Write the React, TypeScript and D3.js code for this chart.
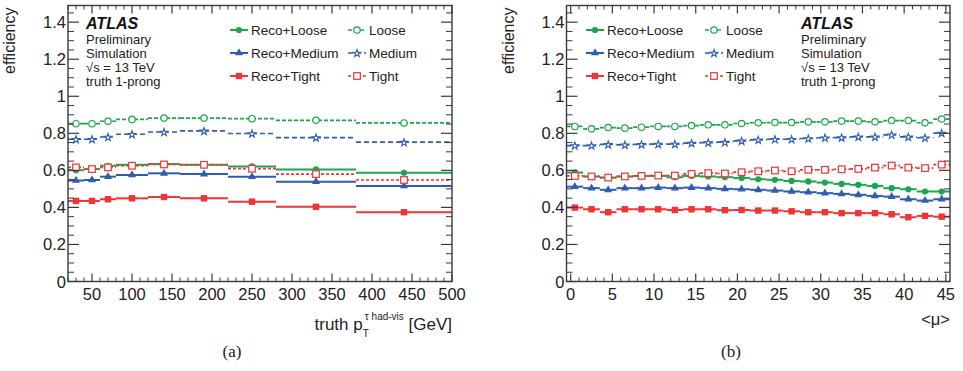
import React from "react";
import * as d3 from "d3";

// ---------- data ----------
const ptEdges = [20, 40, 60, 80, 120, 160, 220, 280, 380, 500];
const ptRecoLoose = [0.601, 0.607, 0.625, 0.63, 0.634, 0.63, 0.621, 0.605, 0.587];
const ptRecoMedium = [0.545, 0.548, 0.566, 0.575, 0.584, 0.58, 0.566, 0.539, 0.516];
const ptRecoTight = [0.435, 0.435, 0.444, 0.449, 0.456, 0.449, 0.431, 0.403, 0.374];
const ptLoose = [0.852, 0.852, 0.865, 0.875, 0.882, 0.882, 0.879, 0.87, 0.856];
const ptMedium = [0.768, 0.768, 0.78, 0.795, 0.807, 0.813, 0.799, 0.777, 0.752];
const ptTight = [0.616, 0.607, 0.616, 0.625, 0.632, 0.63, 0.609, 0.58, 0.548];

const muEdges = [-0.5, 1.5, 3.5, 5.5, 7.5, 9.5, 11.5, 13.5, 15.5, 17.5, 19.5, 21.5, 23.5, 25.5, 27.5, 29.5, 31.5, 33.5, 35.5, 37.5, 39.5, 41.5, 43.5, 45.5];
const muLoose = [0.837, 0.824, 0.831, 0.828, 0.833, 0.837, 0.837, 0.842, 0.846, 0.846, 0.853, 0.857, 0.858, 0.858, 0.862, 0.862, 0.866, 0.866, 0.862, 0.869, 0.869, 0.857, 0.877];
const muMedium = [0.734, 0.734, 0.74, 0.738, 0.74, 0.742, 0.742, 0.747, 0.75, 0.752, 0.759, 0.765, 0.768, 0.768, 0.772, 0.776, 0.777, 0.781, 0.781, 0.792, 0.781, 0.776, 0.801];
const muTight = [0.57, 0.567, 0.561, 0.567, 0.57, 0.572, 0.572, 0.581, 0.585, 0.583, 0.59, 0.595, 0.599, 0.595, 0.603, 0.603, 0.606, 0.608, 0.615, 0.626, 0.615, 0.612, 0.631];
const muRecoLoose = [0.588, 0.567, 0.561, 0.567, 0.57, 0.57, 0.563, 0.57, 0.567, 0.563, 0.559, 0.552, 0.549, 0.543, 0.54, 0.534, 0.527, 0.522, 0.516, 0.504, 0.498, 0.486, 0.486];
const muRecoMedium = [0.512, 0.504, 0.495, 0.504, 0.504, 0.507, 0.504, 0.507, 0.504, 0.5, 0.498, 0.495, 0.491, 0.486, 0.482, 0.477, 0.473, 0.468, 0.462, 0.458, 0.444, 0.437, 0.444];
const muRecoTight = [0.399, 0.39, 0.374, 0.39, 0.39, 0.39, 0.386, 0.39, 0.39, 0.385, 0.386, 0.383, 0.383, 0.379, 0.374, 0.374, 0.369, 0.369, 0.369, 0.363, 0.347, 0.354, 0.35];

const yTicks = [0, 0.2, 0.4, 0.6, 0.8, 1, 1.2, 1.4];
const ptTicks = [50, 100, 150, 200, 250, 300, 350, 400, 450, 500];
const muTicks = [0, 5, 10, 15, 20, 25, 30, 35, 40, 45];
const legendLabels = ["Reco+Loose", "Reco+Medium", "Reco+Tight", "Loose", "Medium", "Tight"];

const GREEN = "#1aa64c";
const BLUE = "#2d5cb0";
const RED = "#ef3535";
const FONT = "'Liberation Sans', Arial, Helvetica, sans-serif";
const AXC = "#3a3a3a";

type Series = { values: number[]; color: string; marker: string; dash?: string };

function Marker({ type, x, y, color }: { type: string; x: number; y: number; color: string }) {
  if (type === "circle") return <circle cx={x} cy={y} r={3.1} fill={color} />;
  if (type === "ocircle") return <circle cx={x} cy={y} r={3.2} fill="#fff" stroke={color} strokeWidth={1.2} />;
  if (type === "triangle")
    return <path d={d3.symbol(d3.symbolTriangle, 28)() || ""} transform={`translate(${x},${y})`} fill={color} />;
  if (type === "star")
    return (
      <path d={d3.symbol(d3.symbolStar, 17)() || ""} transform={`translate(${x},${y + 0.4})`} fill="#fff" stroke={color} strokeWidth={1.1} />
    );
  if (type === "square") return <rect x={x - 3.2} y={y - 3.2} width={6.4} height={6.4} fill={color} />;
  if (type === "osquare")
    return <rect x={x - 3.3} y={y - 3.3} width={6.6} height={6.6} fill="#fff" stroke={color} strokeWidth={1.2} />;
  return null;
}

function Panel(props: {
  x0: number;
  x1: number;
  domain: [number, number];
  edges: number[];
  ticks: number[];
  minorStep: number;
  series: Series[];
  legendX: [number, number];
  atlasX: number;
  title: React.ReactNode;
}) {
  const { x0, x1, domain, edges, ticks, minorStep, series, legendX, atlasX, title } = props;
  const yTop = 5.5;
  const yBot = 281.5;
  const x = d3.scaleLinear().domain(domain).range([x0, x1]);
  const y = d3.scaleLinear().domain([0, 1.49]).range([yBot, yTop]);
  const xMinor = d3.range(Math.ceil(domain[0] / minorStep) * minorStep, domain[1] + 1e-9, minorStep).filter(
    (v) => !ticks.some((t) => Math.abs(t - v) < 1e-9)
  );
  const yMinor = d3.range(0, 1.49, 0.05).filter((v) => !yTicks.some((t) => Math.abs(t - v) < 1e-9));

  const rowsY = [30, 53, 76];
  return (
    <g>
      {/* series */}
      {series.map((s, si) => (
        <g key={si}>
          {s.values.map((v, i) => (
            <line
              key={i}
              x1={x(edges[i])}
              x2={x(edges[i + 1])}
              y1={y(v)}
              y2={y(v)}
              stroke={s.color}
              strokeWidth={s.dash ? 1.7 : 2}
              strokeDasharray={s.dash}
            />
          ))}
        </g>
      ))}
      {series.map((s, si) => (
        <g key={"m" + si}>
          {s.values.map((v, i) => (
            <Marker key={i} type={s.marker} x={x((edges[i] + edges[i + 1]) / 2)} y={y(v)} color={s.color} />
          ))}
        </g>
      ))}
      {/* frame */}
      <rect x={x0} y={yTop} width={x1 - x0} height={yBot - yTop} fill="none" stroke={AXC} strokeWidth={1.4} />
      {ticks.map((t) => (
        <g key={"xt" + t}>
          <line x1={x(t)} x2={x(t)} y1={yBot} y2={yBot - 8} stroke={AXC} strokeWidth={1.2} />
          <line x1={x(t)} x2={x(t)} y1={yTop} y2={yTop + 8} stroke={AXC} strokeWidth={1.2} />
          <text x={x(t)} y={yBot + 18} textAnchor="middle" fontSize={16.5} fontFamily={FONT} fill="#222">
            {t}
          </text>
        </g>
      ))}
      {xMinor.map((t) => (
        <g key={"xm" + t}>
          <line x1={x(t)} x2={x(t)} y1={yBot} y2={yBot - 4} stroke={AXC} strokeWidth={1} />
          <line x1={x(t)} x2={x(t)} y1={yTop} y2={yTop + 4} stroke={AXC} strokeWidth={1} />
        </g>
      ))}
      {yTicks.map((t) => (
        <g key={"yt" + t}>
          <line x1={x0} x2={x0 + 11} y1={y(t)} y2={y(t)} stroke={AXC} strokeWidth={1.2} />
          <line x1={x1} x2={x1 - 11} y1={y(t)} y2={y(t)} stroke={AXC} strokeWidth={1.2} />
          <text x={x0 - 2} y={y(t) + 6} textAnchor="end" fontSize={16.5} fontFamily={FONT} fill="#222">
            {t}
          </text>
        </g>
      ))}
      {yMinor.map((t) => (
        <g key={"ym" + t}>
          <line x1={x0} x2={x0 + 6} y1={y(t)} y2={y(t)} stroke={AXC} strokeWidth={1} />
          <line x1={x1} x2={x1 - 6} y1={y(t)} y2={y(t)} stroke={AXC} strokeWidth={1} />
        </g>
      ))}
      {/* y title */}
      <text
        transform={`translate(${x0 - 53},${yTop + 2}) rotate(-90)`}
        textAnchor="end"
        fontSize={16}
        fontFamily={FONT}
        fill="#222"
      >
        efficiency
      </text>
      {title}
      {/* ATLAS label */}
      <text x={atlasX} y={29} fontSize={16} fontWeight="bold" fontStyle="italic" fontFamily={FONT} fill="#111">
        ATLAS
      </text>
      {["Preliminary", "Simulation", "\u221As = 13 TeV", "truth 1-prong"].map((s, i) => (
        <text key={s} x={atlasX} y={44 + i * 14} fontSize={13} fontFamily={FONT} fill="#222">
          {s}
        </text>
      ))}
      {/* legend */}
      {series.map((s, i) => {
        const col = i < 3 ? 0 : 1;
        const row = i % 3;
        const lx = legendX[col];
        const ly = rowsY[row];
        return (
          <g key={"lg" + i}>
            <line x1={lx} x2={lx + 18} y1={ly} y2={ly} stroke={s.color} strokeWidth={s.dash ? 1.7 : 2} strokeDasharray={s.dash} />
            <Marker type={s.marker} x={lx + 9} y={ly} color={s.color} />
            <text x={lx + 21} y={ly + 5} fontSize={13.5} fontFamily={FONT} fill="#222">
              {legendLabels[i]}
            </text>
          </g>
        );
      })}
    </g>
  );
}

export default function App() {
  const leftSeries: Series[] = [
    { values: ptRecoLoose, color: GREEN, marker: "circle" },
    { values: ptRecoMedium, color: BLUE, marker: "triangle" },
    { values: ptRecoTight, color: RED, marker: "square" },
    { values: ptLoose, color: GREEN, marker: "ocircle", dash: "4,2" },
    { values: ptMedium, color: BLUE, marker: "star", dash: "5,3" },
    { values: ptTight, color: RED, marker: "osquare", dash: "3,2" },
  ];
  const rightSeries: Series[] = [
    { values: muRecoLoose, color: GREEN, marker: "circle" },
    { values: muRecoMedium, color: BLUE, marker: "triangle" },
    { values: muRecoTight, color: RED, marker: "square" },
    { values: muLoose, color: GREEN, marker: "ocircle", dash: "4,2" },
    { values: muMedium, color: BLUE, marker: "star", dash: "5,3" },
    { values: muTight, color: RED, marker: "osquare", dash: "3,2" },
  ];
  return (
    <svg
      width={963}
      height={371}
      style={{ position: "absolute", left: 0, top: 0, background: "#fff" }}
      xmlns="http://www.w3.org/2000/svg"
    >
      <rect width={963} height={371} fill="#fff" />
      <Panel
        x0={68}
        x1={452}
        domain={[20, 500]}
        edges={ptEdges}
        ticks={ptTicks}
        minorStep={10}
        series={leftSeries}
        legendX={[230, 348]}
        atlasX={86}
        title={
          <text x={452} y={330} textAnchor="end" fontFamily={FONT} fill="#222" fontSize={17}>
            truth p
            <tspan dy={7} fontSize={10}>
              T
            </tspan>
            <tspan dx={-4} dy={-17} fontSize={10}>
              {"\u03C4 had-vis"}
            </tspan>
            <tspan dy={10} fontSize={17}>
              {" [GeV]"}
            </tspan>
          </text>
        }
      />
      <Panel
        x0={566.5}
        x1={950}
        domain={[-0.5, 45.5]}
        edges={muEdges}
        ticks={muTicks}
        minorStep={1}
        series={rightSeries}
        legendX={[586, 705]}
        atlasX={801}
        title={
          <text x={950} y={325} fontSize={16.5} textAnchor="end" fontFamily={FONT} fill="#222">
            {"<\u03BC>"}
          </text>
        }
      />
      <text x={232} y={357} textAnchor="middle" fontSize={17} fontFamily="'Liberation Serif', 'DejaVu Serif', serif" fill="#222">
        (a)
      </text>
      <text x={731} y={357} textAnchor="middle" fontSize={17} fontFamily="'Liberation Serif', 'DejaVu Serif', serif" fill="#222">
        (b)
      </text>
    </svg>
  );
}
